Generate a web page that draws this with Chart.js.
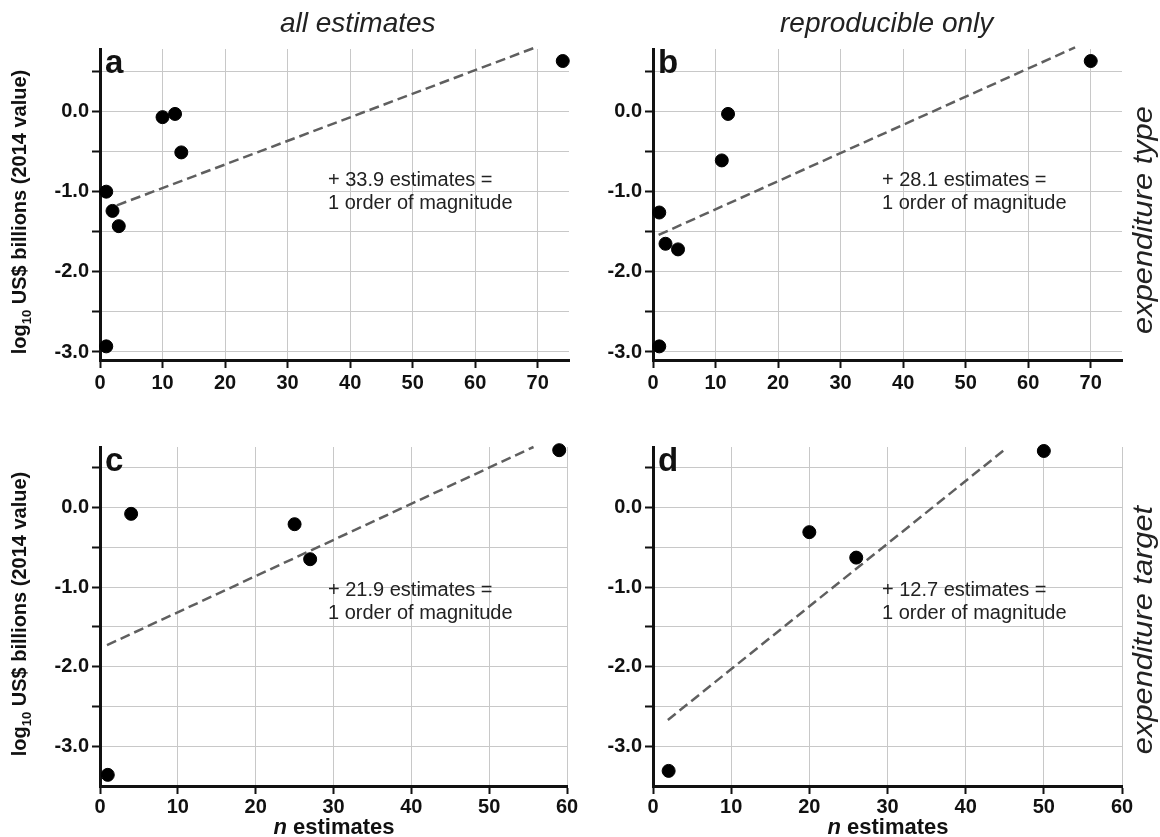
<!DOCTYPE html>
<html>
<head>
<meta charset="utf-8">
<script src="https://cdn.jsdelivr.net/npm/chart.js@4.4.1/dist/chart.umd.min.js"></script>
<style>
  body { margin: 0; background: #fff; }
  #wrap { position: relative; width: 1160px; height: 837px; overflow: hidden; font-family: "Liberation Sans", Arial, sans-serif; color: #111; }
  canvas { position: absolute; left: 0; top: 0; }
  .txt { position: absolute; white-space: nowrap; }
  .title { font-size: 28px; font-style: italic; color: #222; }
  .side { font-size: 28px; font-style: italic; color: #222; width: 320px; text-align: center; line-height: 30px; transform: rotate(-90deg) scaleX(1.1); }
  .ylab { font-size: 20px; font-weight: bold; width: 340px; text-align: center; line-height: 24px; transform: rotate(-90deg); }
  .ylab sub { font-size: 13px; }
  .xlab { font-size: 22px; font-weight: bold; width: 200px; text-align: center; line-height: 24px; }
  .note { font-size: 20px; line-height: 23px; color: #222; }
  .letter { font-size: 33px; font-weight: bold; line-height: 33px; }
</style>
</head>
<body>
<div id="wrap">
  <canvas id="ca" width="1160" height="837"></canvas>
  <canvas id="cb" width="1160" height="837"></canvas>
  <canvas id="cc" width="1160" height="837"></canvas>
  <canvas id="cd" width="1160" height="837"></canvas>

  <div class="txt title" style="left:280px; top:7px;">all estimates</div>
  <div class="txt title" style="left:780px; top:7px;">reproducible only</div>

  <div class="txt side" style="left:983px; top:205px;">expenditure type</div>
  <div class="txt side" style="left:983px; top:615px;">expenditure target</div>

  <div class="txt ylab" style="left:-147px; top:196px;">log<sub>10</sub> US$ billions (2014 value)</div>
  <div class="txt ylab" style="left:-147px; top:598px;">log<sub>10</sub> US$ billions (2014 value)</div>

  <div class="txt xlab" style="left:234px; top:815px;"><i>n</i> estimates</div>
  <div class="txt xlab" style="left:788px; top:815px;"><i>n</i> estimates</div>

  <div class="txt note" style="left:328px; top:168px;">+ 33.9 estimates =<br>1 order of magnitude</div>
  <div class="txt note" style="left:882px; top:168px;">+ 28.1 estimates =<br>1 order of magnitude</div>
  <div class="txt note" style="left:328px; top:578px;">+ 21.9 estimates =<br>1 order of magnitude</div>
  <div class="txt note" style="left:882px; top:578px;">+ 12.7 estimates =<br>1 order of magnitude</div>

  <div class="txt letter" style="left:105px; top:45px;">a</div>
  <div class="txt letter" style="left:658px; top:45px;">b</div>
  <div class="txt letter" style="left:105px; top:443px;">c</div>
  <div class="txt letter" style="left:658px; top:443px;">d</div>
</div>

<script>
// panel a: all estimates, expenditure type
const aX = [1, 2, 3, 10, 12, 13, 1, 74];
const aY = [-1.0, -1.24, -1.43, -0.07, -0.03, -0.51, -2.93, 0.63];
const trendAX = [2.7, 69.3];
const trendAY = [-1.17, 0.79];

// panel b: reproducible only, expenditure type
const bX = [1, 2, 4, 11, 12, 1, 70];
const bY = [-1.26, -1.65, -1.72, -0.61, -0.03, -2.93, 0.63];
const trendBX = [0.9, 67.5];
const trendBY = [-1.54, 0.8];

// panel c: all estimates, expenditure target
const cX = [1, 4, 25, 27, 59];
const cY = [-3.36, -0.08, -0.21, -0.65, 0.72];
const trendCX = [0.9, 55.7];
const trendCY = [-1.73, 0.76];

// panel d: reproducible only, expenditure target
const dX = [2, 20, 26, 50];
const dY = [-3.31, -0.31, -0.63, 0.71];
const trendDX = [1.9, 44.9];
const trendDY = [-2.67, 0.72];

// ticks
const xTicks70 = [0, 10, 20, 30, 40, 50, 60, 70];
const xTicks60 = [0, 10, 20, 30, 40, 50, 60];
const yTicksTop = [-3, -2.5, -2, -1.5, -1, -0.5, 0, 0.5];
const yTicksBottom = [-3, -2.5, -2, -1.5, -1, -0.5, 0, 0.5];

const FONT = '"Liberation Sans", Arial, sans-serif';
const W = 1160, H = 837;
const YW = 60, XH = 40;

function pts(xs, ys) {
  return xs.map((x, i) => ({ x: x, y: ys[i] }));
}

function makePanel(id, xs, ys, tx, ty, xMax, yMin, yMax, xTicks, yTicks, area, labelPad) {
  const ctx = document.getElementById(id).getContext('2d');
  new Chart(ctx, {
    type: 'scatter',
    data: {
      datasets: [
        {
          data: pts(tx, ty),
          showLine: true,
          borderColor: '#5f5f5f',
          borderWidth: 2.5,
          borderDash: [10, 5],
          pointRadius: 0,
          pointHoverRadius: 0,
          clip: false
        },
        {
          data: pts(xs, ys),
          backgroundColor: '#000',
          borderColor: '#000',
          pointRadius: 6.5,
          pointHoverRadius: 6.5,
          clip: false
        }
      ]
    },
    options: {
      responsive: false,
      animation: false,
      events: [],
      layout: {
        padding: {
          left: area.left - YW,
          top: area.top,
          right: W - area.right,
          bottom: H - area.bottom - XH
        }
      },
      plugins: { legend: { display: false }, tooltip: { enabled: false } },
      scales: {
        x: {
          type: 'linear',
          min: 0,
          max: xMax,
          afterFit: s => { s.height = XH; },
          afterBuildTicks: s => { s.ticks = xTicks.map(v => ({ value: v })); },
          grid: { color: '#c8c8c8', lineWidth: 1, tickColor: '#111', tickWidth: 2, tickLength: 8 },
          border: { color: '#111', width: 3 },
          ticks: { color: '#111', font: { family: FONT, size: 20, weight: 'bold' }, padding: labelPad, maxRotation: 0, autoSkip: false }
        },
        y: {
          type: 'linear',
          min: yMin,
          max: yMax,
          afterFit: s => { s.width = YW; },
          afterBuildTicks: s => { s.ticks = yTicks.map(v => ({ value: v })); },
          grid: { color: '#c8c8c8', lineWidth: 1, tickColor: '#111', tickWidth: 2, tickLength: 8 },
          border: { color: '#111', width: 3 },
          ticks: {
            color: '#111',
            font: { family: FONT, size: 20, weight: 'bold' },
            padding: 3,
            autoSkip: false,
            callback: v => Number.isInteger(v) ? v.toFixed(1) : ''
          }
        }
      }
    }
  });
}

makePanel('ca', aX, aY, trendAX, trendAY, 75, -3.1, 0.78, xTicks70, yTicksTop,
  { left: 100, top: 49, right: 569, bottom: 360 }, 3);
makePanel('cb', bX, bY, trendBX, trendBY, 75, -3.1, 0.78, xTicks70, yTicksTop,
  { left: 653, top: 49, right: 1122, bottom: 360 }, 3);
makePanel('cc', cX, cY, trendCX, trendCY, 60, -3.5, 0.76, xTicks60, yTicksBottom,
  { left: 100, top: 447, right: 567, bottom: 786 }, 1);
makePanel('cd', dX, dY, trendDX, trendDY, 60, -3.5, 0.76, xTicks60, yTicksBottom,
  { left: 653, top: 447, right: 1122, bottom: 786 }, 1);
</script>
</body>
</html>
